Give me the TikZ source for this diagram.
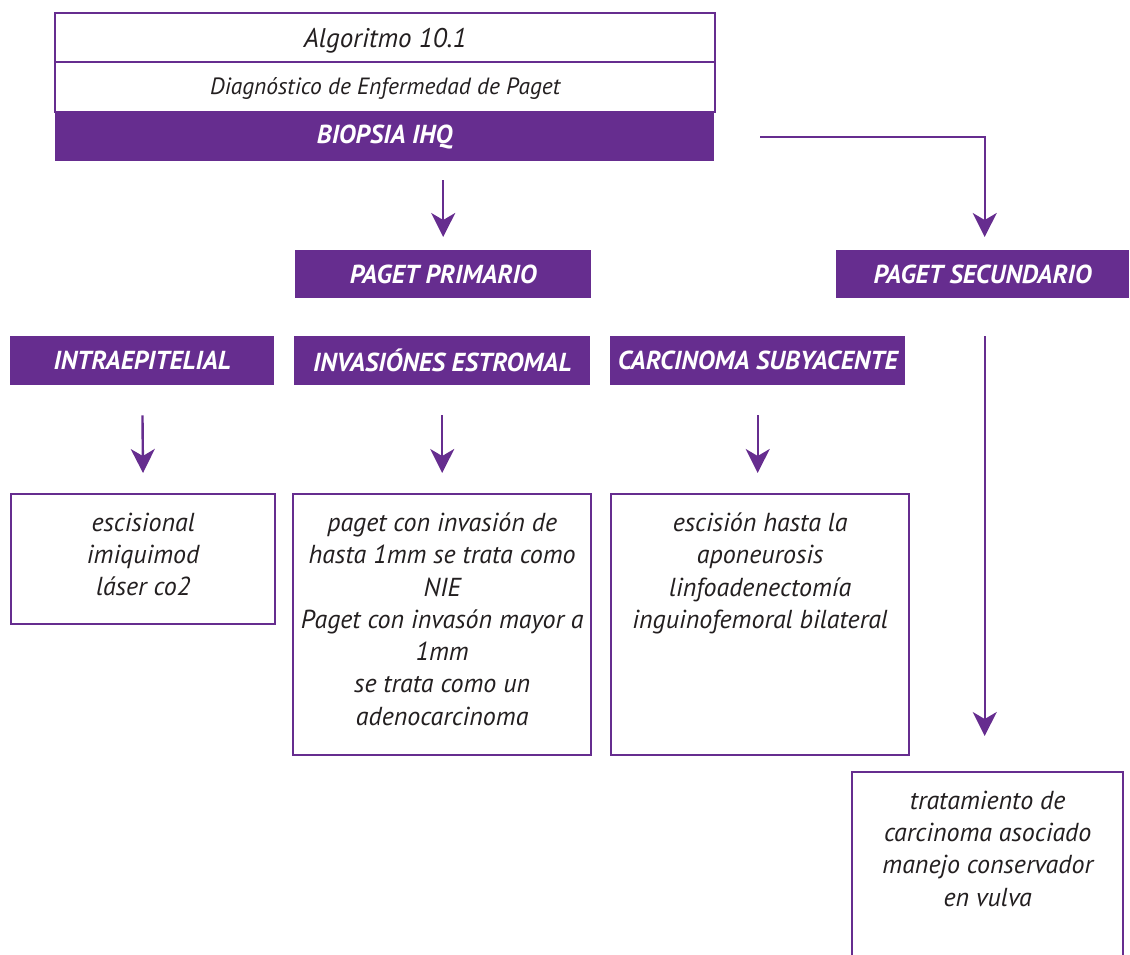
\documentclass[tikz,border=0pt]{standalone}
\usepackage{fontspec}
\setmainfont{PT Sans}
\usetikzlibrary{arrows.meta}
\definecolor{pgtpurple}{RGB}{102,45,143}
\definecolor{pgttext}{RGB}{35,31,32}
\tikzset{
  x=1pt, y=-1pt,
  headbox/.style={fill=pgtpurple, draw=none, inner sep=0pt, text=white,
    font=\fontsize{26}{30}\selectfont\bfseries\itshape},
  whitebox/.style={draw=pgtpurple, line width=2.4pt, fill=white, inner sep=0pt},
  boxtext/.style={inner sep=0pt, align=center, text=pgttext,
    font=\fontsize{26}{32.3}\selectfont\itshape},
  arr/.style={draw=pgtpurple, line width=2.4pt,
    -{Stealth[length=24pt, width=24pt, inset=7pt]}},
}
\newcommand{\boxat}[6]{% name, x1, y1, x2, y2, style
  \node[#6, anchor=north west, minimum width={#4-#2}, minimum height={#5-#3}]
    (#1) at (#2,#3) {};}
\begin{document}
\begin{tikzpicture}
\path[use as bounding box, clip] (0,0) rectangle (1130,954);

% title block
\boxat{alg}{54}{12}{714}{61}{whitebox}
\boxat{diag}{54}{61}{714}{111}{whitebox}
\node[boxtext, font=\fontsize{27}{30}\selectfont\itshape] (algt) at ([yshift=-3pt]alg.center) {Algoritmo 10.1};
\node[boxtext, font=\fontsize{23.5}{28}\selectfont\itshape] (diagt) at ([yshift=-1pt]diag.center) {Diagnóstico de Enfermedad de Paget};
\boxat{bio}{55}{112}{714}{161}{headbox}
\node[headbox, fill=none] (biot) at (bio.center) {BIOPSIA IHQ};

% second level
\boxat{prim}{295}{250}{591}{298}{headbox}
\node[headbox, fill=none] (primt) at (prim.center) {PAGET PRIMARIO};
\boxat{sec}{836}{250}{1129}{298}{headbox}
\node[headbox, fill=none] (sect) at (sec.center) {PAGET SECUNDARIO};

% third level
\boxat{intra}{10}{336}{274}{385}{headbox}
\node[headbox, fill=none] (intrat) at (intra.center) {INTRAEPITELIAL};
\boxat{inv}{294}{336}{590}{385}{headbox}
\node[headbox, fill=none] (invt) at (inv.center) {INVASIÓNES ESTROMAL};
\boxat{carc}{610}{336}{905}{385}{headbox}
\node[headbox, fill=none] (carct) at (carc.center) {CARCINOMA SUBYACENTE};

% treatment boxes
\boxat{esc}{10}{493}{274}{623}{whitebox}
\node[boxtext, anchor=north] (esct) at ([yshift=-19.5pt]esc.north)
  {escisional\\imiquimod\\láser co2};
\boxat{pag}{292}{493}{590}{754}{whitebox}
\node[boxtext, anchor=north] (pagt) at ([yshift=-19.5pt]pag.north)
  {paget con invasión de\\hasta 1mm se trata como\\NIE\\Paget con invasón mayor a\\1mm\\se trata como un\\adenocarcinoma};
\boxat{apo}{610}{493}{908}{754}{whitebox}
\node[boxtext, anchor=north] (apot) at ([yshift=-19.5pt]apo.north)
  {escisión hasta la\\aponeurosis\\linfoadenectomía\\inguinofemoral bilateral};
\boxat{trat}{851}{771}{1122}{1000}{whitebox}
\node[boxtext, anchor=north] (tratt) at ([yshift=-19.5pt]trat.north)
  {tratamiento de\\carcinoma asociado\\manejo conservador\\en vulva};

% connectors
\draw[arr, shorten <=19pt, shorten >=13pt] (bio.south -| prim.north) -- (prim.north);
\draw[arr, shorten >=13pt] ([xshift=46pt]bio.east) -| ([xshift=2pt]sec.north);
\draw[arr, shorten <=30pt, shorten >=20pt] (intra.south) -- (esc.north);
\draw[arr, shorten <=30pt, shorten >=20pt] (inv.south) -- (inv.south |- pag.north);
\draw[arr, shorten <=30pt, shorten >=20pt] (carc.south) -- (carc.south |- apo.north);
\draw[arr, shorten <=38pt, shorten >=35pt] ([xshift=2pt]sec.south) -- ([xshift=2pt]sec.south |- trat.north);
\end{tikzpicture}
\end{document}
